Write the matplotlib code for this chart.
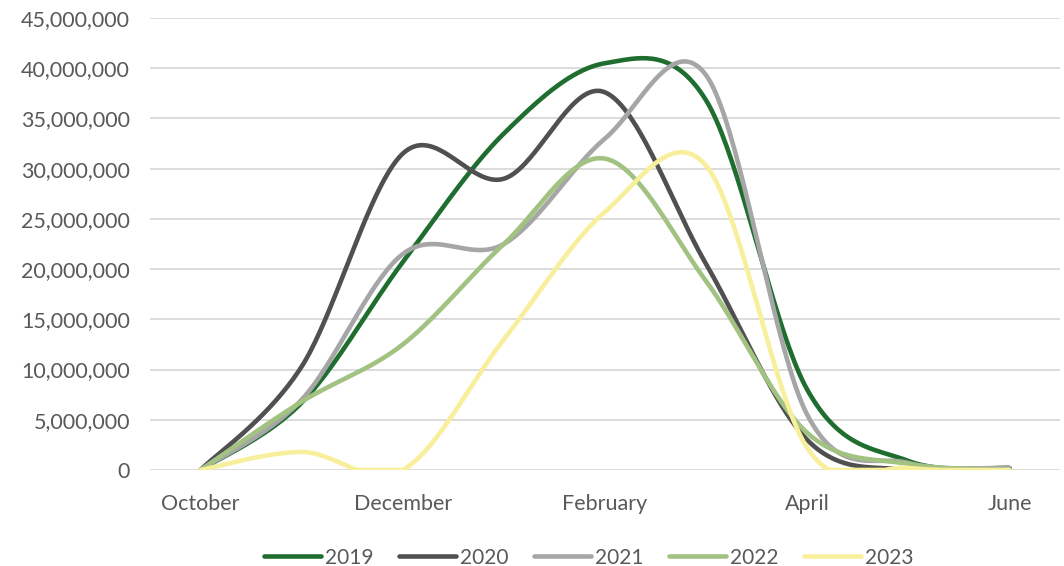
import numpy as np
import matplotlib
matplotlib.use('Agg')
import matplotlib.pyplot as plt
from matplotlib.ticker import FuncFormatter

# Meses (categorias do eixo x)
meses = ['October', 'November', 'December', 'January', 'February',
         'March', 'April', 'May', 'June']

# Valores de cada temporada (em milhões)
v2019 = [0, 6.7, 20.7, 33.5, 40.5, 36.8, 8.0, 0.9, 0.2]
v2020 = [0, 10.3, 31.5, 29.0, 37.6, 20.5, 3.0, 0.0, 0.2]
v2021 = [0, 7.0, 21.5, 22.5, 33.0, 39.3, 5.5, 0.7, 0.2]
v2022 = [0, 6.8, 12.5, 22.5, 31.0, 18.8, 3.7, 0.6, 0.0]
v2023 = [0, 1.8, 0.0, 13.0, 25.7, 30.3, 2.2, 0.2, 0.0]

series = [('2019', v2019, '#1F6E30'),
          ('2020', v2020, '#505050'),
          ('2021', v2021, '#A6A6A6'),
          ('2022', v2022, '#A2C282'),
          ('2023', v2023, '#F8EF9C')]


def suavizar(x, y, n=40):
    # curva suavizada tipo Excel (Bezier com pontos de controle Catmull-Rom)
    x = np.asarray(x, float)
    y = np.asarray(y, float)
    px = np.concatenate([[x[0]], x, [x[-1]]])
    py = np.concatenate([[y[0]], y, [y[-1]]])
    t = np.linspace(0, 1, n)
    xs, ys = [], []
    for i in range(1, len(px) - 2):
        p0 = np.array([px[i], py[i]])
        p3 = np.array([px[i + 1], py[i + 1]])
        c1 = p0 + (p3 - np.array([px[i - 1], py[i - 1]])) / 6
        c2 = p3 - (np.array([px[i + 2], py[i + 2]]) - p0) / 6
        b = ((1 - t) ** 3)[:, None] * p0 + (3 * (1 - t) ** 2 * t)[:, None] * c1 \
            + (3 * (1 - t) * t ** 2)[:, None] * c2 + (t ** 3)[:, None] * p3
        xs.append(b[:, 0])
        ys.append(b[:, 1])
    # o Excel corta a curva na base da área do gráfico
    return np.concatenate(xs), np.maximum(np.concatenate(ys), 0)


plt.rcParams['font.family'] = ['Lato', 'DejaVu Sans']

fig = plt.figure(figsize=(10.64, 5.66), dpi=100)
ax = fig.add_axes([150 / 1064, 96 / 566, 910 / 1064, 452 / 566])

pos = np.arange(len(meses))
for nome, vals, cor in series:
    xs, ys = suavizar(pos, np.array(vals) * 1e6)
    ax.plot(xs, ys, color=cor, lw=3.3, label=nome, solid_capstyle='round')

# Eixos
ax.set_xlim(-0.5, len(meses) - 0.5)
ax.set_ylim(0, 45e6)
ax.set_yticks(np.arange(0, 45e6 + 1, 5e6))
ax.yaxis.set_major_formatter(FuncFormatter(lambda v, p: f'{int(v):,}'))
ax.set_xticks(pos[::2])
ax.set_xticklabels(meses[::2])
ax.grid(axis='y', color='#D9D9D9', lw=1.3)
ax.set_axisbelow(True)
for s in ax.spines.values():
    s.set_visible(False)
ax.tick_params(length=0, colors='#595959', labelsize=15.5)
ax.tick_params(axis='y', pad=14.5)
ax.tick_params(axis='x', pad=17)

# Legenda
ax.legend(loc='upper center', bbox_to_anchor=(0.482, -0.13), ncol=5,
          frameon=False, fontsize=15, labelcolor='#595959',
          handlelength=2.75, handletextpad=0.2, columnspacing=1.2)

plt.savefig('out.png', dpi=100)
